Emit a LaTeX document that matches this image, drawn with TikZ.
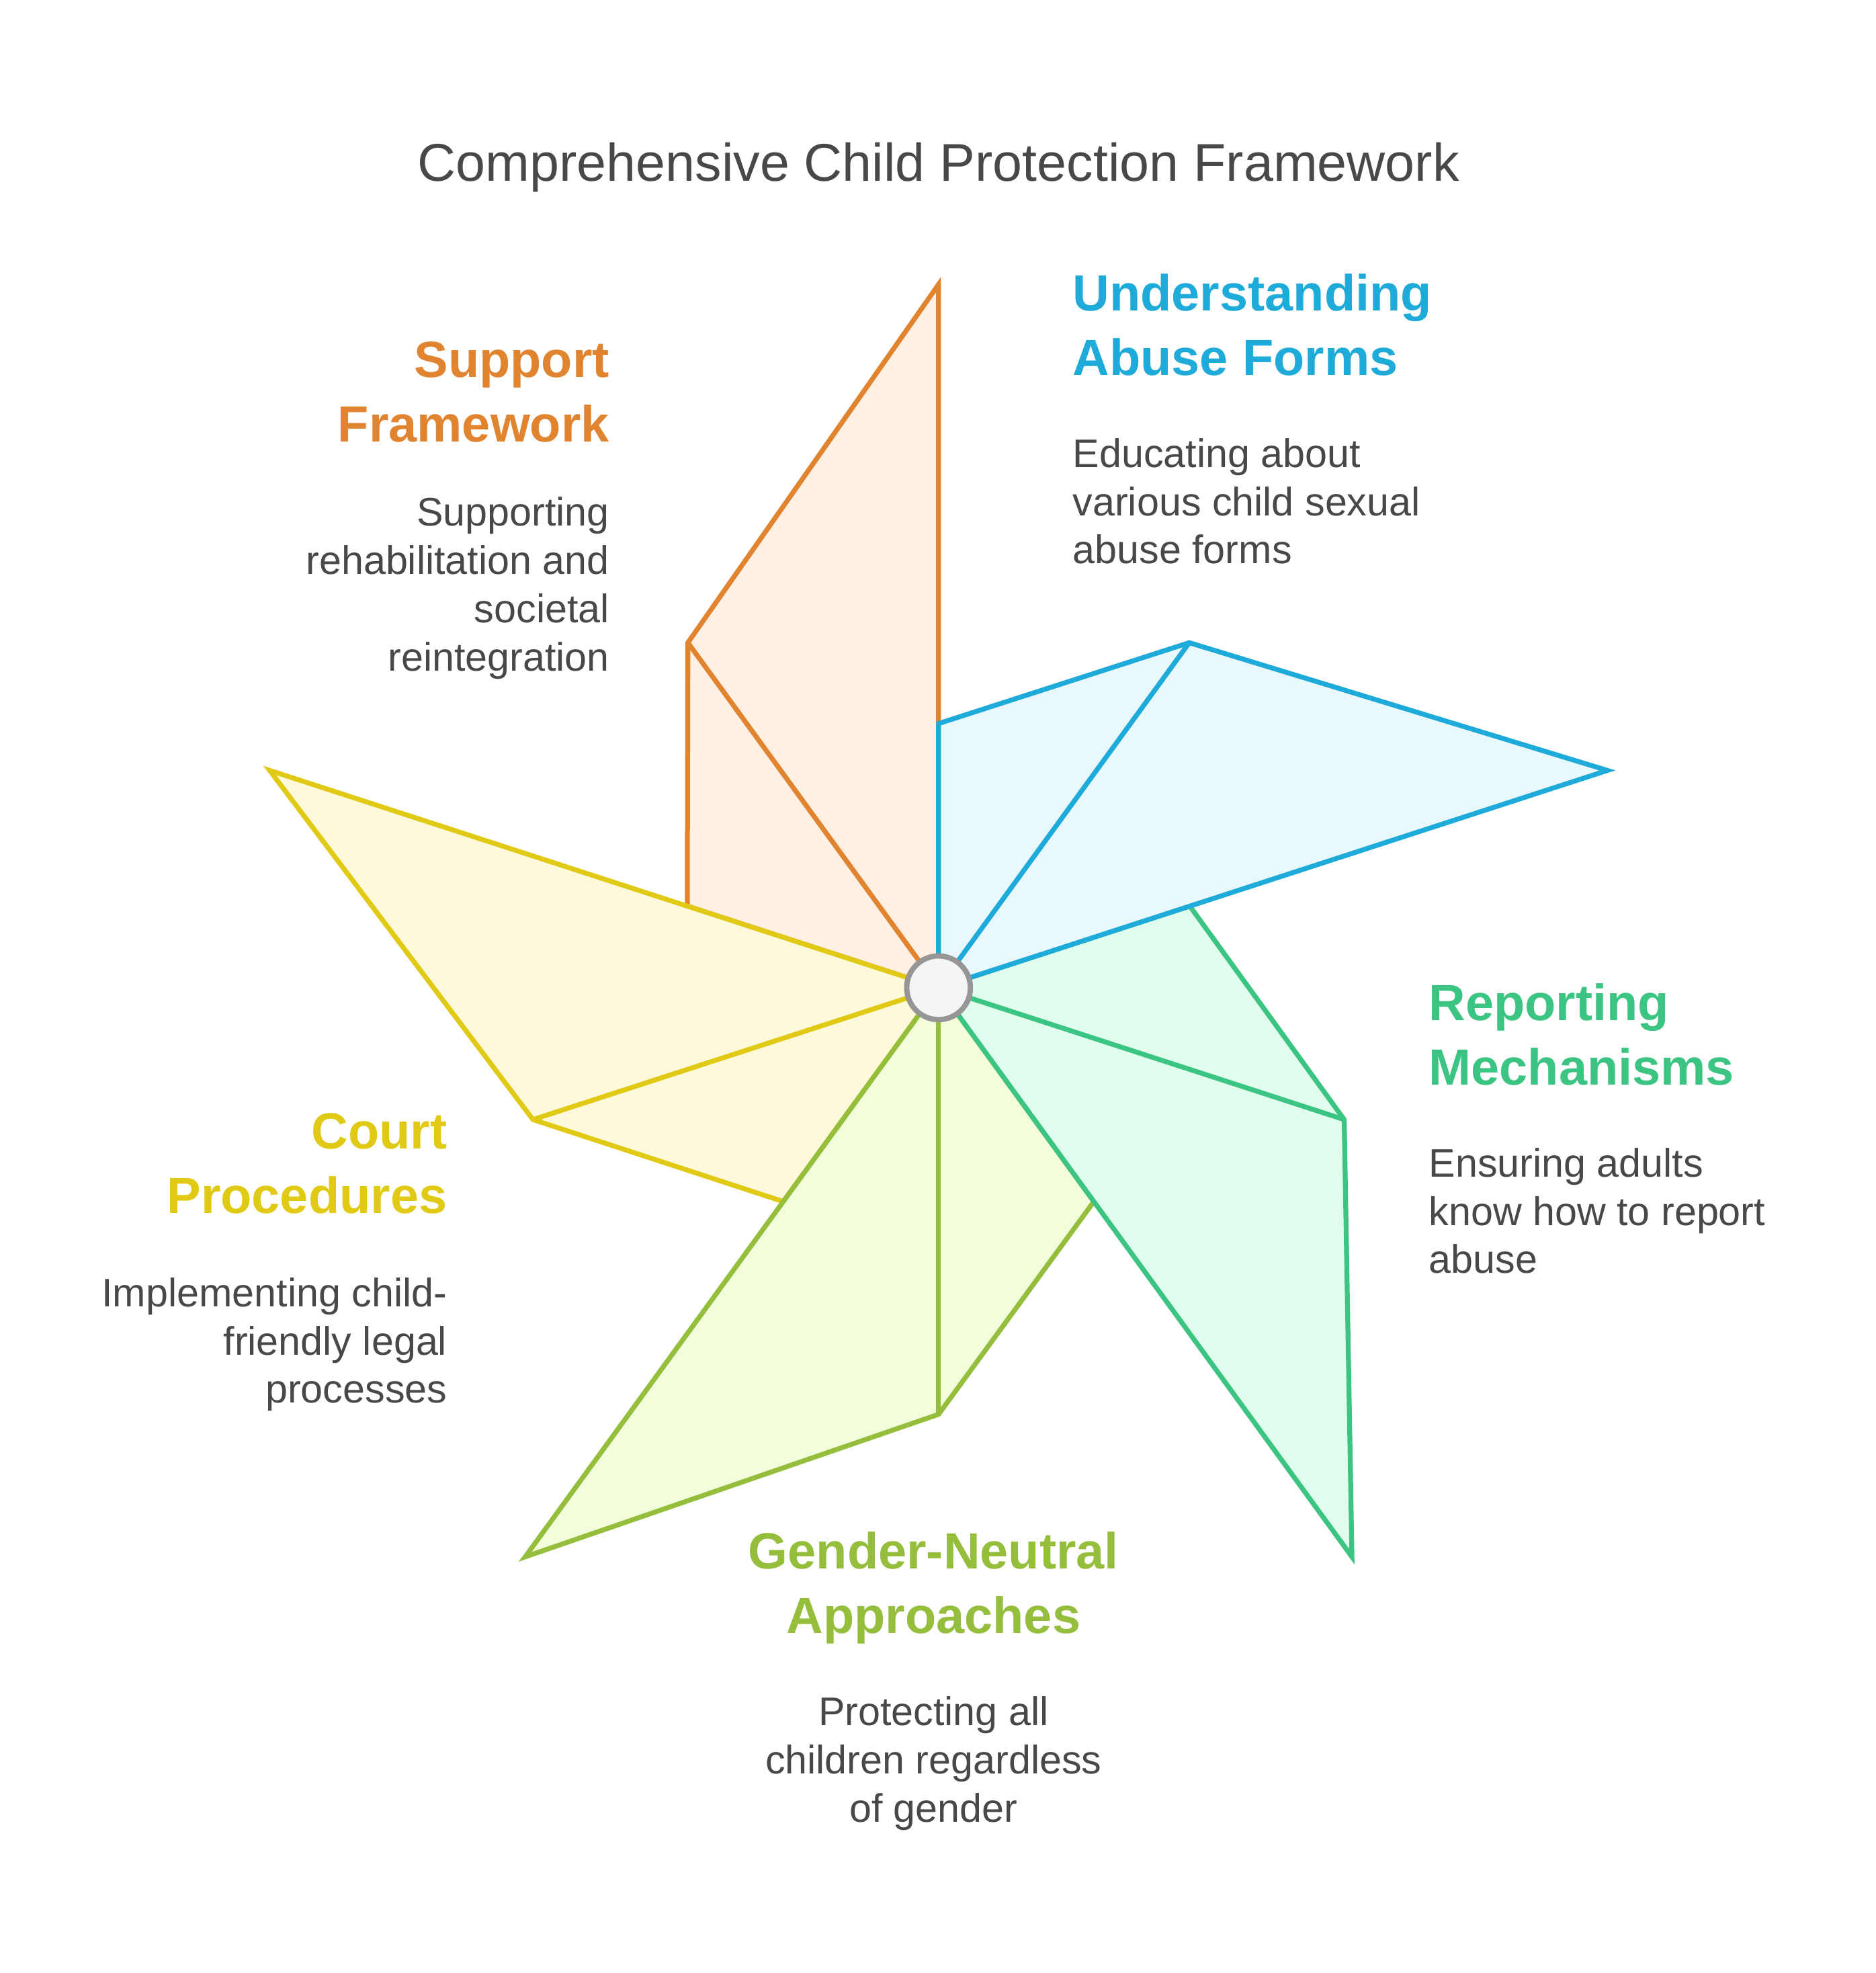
\documentclass[tikz,border=0pt]{standalone}
\usepackage{fontspec}
\setmainfont{Liberation Sans}
\usetikzlibrary{positioning}
\definecolor{txtgray}{RGB}{72,72,72}
\definecolor{hubgray}{RGB}{150,150,150}
\definecolor{hubfill}{RGB}{245,245,245}
\definecolor{orangeL}{RGB}{224,132,48}
\definecolor{orangeF}{RGB}{255,240,227}
\definecolor{blueL}{RGB}{31,171,217}
\definecolor{blueF}{RGB}{232,248,253}
\definecolor{greenL}{RGB}{60,196,131}
\definecolor{greenF}{RGB}{224,253,238}
\definecolor{oliveL}{RGB}{149,190,60}
\definecolor{oliveF}{RGB}{242,253,219}
\definecolor{yellowL}{RGB}{224,202,22}
\definecolor{yellowF}{RGB}{254,249,218}

\begin{document}
\begin{tikzpicture}[x=0.01cm,y=0.01cm,
  blade/.style={line width=1.1pt,line join=miter},
  hub/.style={circle,draw=hubgray,fill=hubfill,line width=1.2pt,minimum size=0.506cm,inner sep=0pt},
  title/.style={font=\fontsize{12}{14.4}\selectfont,text=txtgray,inner sep=0pt},
  heading/.style={font=\fontsize{11.5}{14.5}\selectfont\bfseries,inner sep=0pt},
  desc/.style={font=\fontsize{9}{10.9}\selectfont,text=txtgray,inner sep=0pt}]
\useasboundingbox (0,0) rectangle (1491,-1568);

% --- Title ---
\node[title,anchor=base] (title) at (746,-144) {Comprehensive Child Protection Framework};

% --- Pinwheel blades (tip, mid and near corners) ---
\begin{scope}[shift={(746,-785)}]
\foreach \a/\ln/\fl in {90/orangeL/orangeF,162/yellowL/yellowF,234/oliveL/oliveF,306/greenL/greenF,378/blueL/blueF}{
  \filldraw[blade,draw=\ln,fill=\fl] (0,0) -- (\a+72:210) -- (\a+36:339) -- (\a:559) -- cycle;
  \draw[blade,draw=\ln] (\a+36:339) -- (0,0);
}
\end{scope}
\node[hub] (hub) at (746,-785) {};

% --- Understanding (top right); base = last line ---
\node[heading,text=blueL,anchor=base west,align=left] (abuseHead) at (852,-298) {Understanding\\Abuse Forms};
\node[desc,anchor=base west,align=left] (abuseDesc) at (852,-448) {Educating about\\various child sexual\\abuse forms};

% --- Support (top left) ---
\node[heading,text=orangeL,anchor=base east,align=right] (supportHead) at (485,-351) {Support\\Framework};
\node[desc,anchor=base east,align=right] (supportDesc) at (485,-533) {Supporting\\rehabilitation and\\societal\\reintegration};

% --- Reporting (right) ---
\node[heading,text=greenL,anchor=base west,align=left] (reportHead) at (1135,-862) {Reporting\\Mechanisms};
\node[desc,anchor=base west,align=left] (reportDesc) at (1135,-1012) {Ensuring adults\\know how to report\\abuse};

% --- Court (left) ---
\node[heading,text=yellowL,anchor=base east,align=right] (courtHead) at (356,-964) {Court\\Procedures};
\node[desc,anchor=base east,align=right] (courtDesc) at (356,-1115) {Implementing child-\\friendly legal\\processes};

% --- Gender (bottom) ---
\node[heading,text=oliveL,anchor=base,align=center] (genderHead) at (742,-1298) {Gender-Neutral\\Approaches};
\node[desc,anchor=base,align=center] (genderDesc) at (742,-1448) {Protecting all\\children regardless\\of gender};
\end{tikzpicture}
\end{document}
